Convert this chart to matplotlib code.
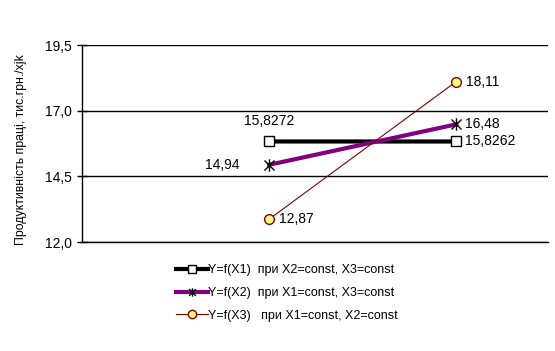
import matplotlib.pyplot as plt
from matplotlib.lines import Line2D
from matplotlib.path import Path

plt.rcParams['font.family'] = ['Liberation Sans', 'DejaVu Sans']

# data
x_pos = [1, 2]
y_x1 = [15.8272, 15.8262]
y_x2 = [14.94, 16.48]
y_x3 = [12.87, 18.11]
lab_x1 = ["15,8272", "15,8262"]
lab_x2 = ["14,94", "16,48"]
lab_x3 = ["12,87", "18,11"]
legend_labels = ["Y=f(X1)  при X2=const, X3=const",
                 "Y=f(X2)  при X1=const, X3=const",
                 "Y=f(X3)   при X1=const, X2=const"]
yticks = [12.0, 14.5, 17.0, 19.5]

W, H = 555, 351
fig = plt.figure(figsize=(W / 100, H / 100), dpi=100)
ax = fig.add_axes([82 / W, 1 - 242 / H, (548 - 82) / W, (242 - 45) / H])

# excel-like star marker: vertical bar plus an X
star = Path([(0, -1), (0, 1), (-0.8, -0.8), (0.8, 0.8), (-0.8, 0.8), (0.8, -0.8)],
            [Path.MOVETO, Path.LINETO] * 3)

ax.plot(x_pos, y_x1, color='black', lw=3, marker='s', ms=7,
        mfc='white', mec='black', mew=1, zorder=3)
ax.plot(x_pos, y_x2, color='#800080', lw=3, zorder=3)
ax.plot(x_pos, y_x2, ls='none', marker=star, ms=9, mec='black',
        mew=1, zorder=4)
ax.plot(x_pos, y_x3, color='#800000', lw=0.8, marker='o', ms=7,
        mfc='#FFFF80', mec='#800000', mew=1, zorder=5)

fs = 10
ax.annotate(lab_x1[0], (x_pos[0], y_x1[0]), xytext=(0, 20), textcoords='offset pixels',
            ha='center', va='center', fontsize=fs)
ax.annotate(lab_x1[1], (x_pos[1], y_x1[1]), xytext=(9, 0), textcoords='offset pixels',
            ha='left', va='center', fontsize=fs)
ax.annotate(lab_x2[0], (x_pos[0], y_x2[0]), xytext=(-30, 0), textcoords='offset pixels',
            ha='right', va='center', fontsize=fs)
ax.annotate(lab_x2[1], (x_pos[1], y_x2[1]), xytext=(9, 0), textcoords='offset pixels',
            ha='left', va='center', fontsize=fs)
ax.annotate(lab_x3[0], (x_pos[0], y_x3[0]), xytext=(10, 0), textcoords='offset pixels',
            ha='left', va='center', fontsize=fs)
ax.annotate(lab_x3[1], (x_pos[1], y_x3[1]), xytext=(10, 0), textcoords='offset pixels',
            ha='left', va='center', fontsize=fs)

ax.set_xlim(0, 2.49)
ax.set_ylim(12.0, 19.5)
ax.set_yticks(yticks)
ax.set_yticklabels([f"{t:.1f}".replace('.', ',') for t in yticks], fontsize=10)
ax.set_xticks([])
ax.grid(axis='y', color='black', lw=1)
ax.tick_params(axis='y', direction='inout', length=7, width=1, pad=4)
for s in ['top', 'right']:
    ax.spines[s].set_visible(False)
ax.spines['left'].set_linewidth(1)
ax.spines['bottom'].set_linewidth(1)
ax.set_ylabel("Продуктивність праці, тис.грн./хjk", fontsize=8.8)
ax.yaxis.set_label_coords(-0.118, 0.467)

handles = [
    Line2D([], [], color='black', lw=3, marker='s', ms=6, mfc='white', mec='black'),
    Line2D([], [], color='#800080', lw=3, marker=star, ms=6, mec='black', mew=1),
    Line2D([], [], color='#800000', lw=0.8, marker='o', ms=6, mfc='#FFFF80', mec='#800000'),
]
fig.legend(handles, legend_labels, loc='center', bbox_to_anchor=(287 / W, 1 - 293 / H),
           frameon=False, fontsize=9, handlelength=2.6, handletextpad=0.0,
           labelspacing=0.85)

fig.savefig('out.png', dpi=100)
